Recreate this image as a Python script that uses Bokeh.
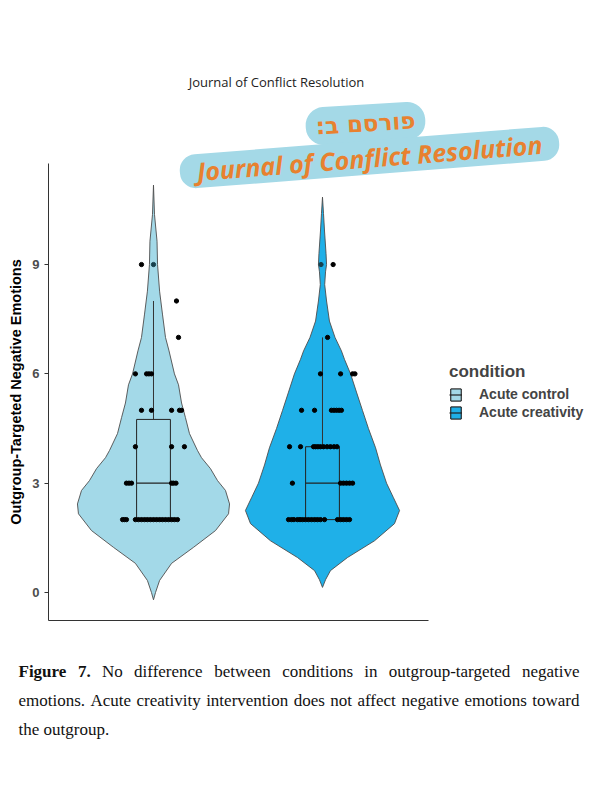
from bokeh.plotting import figure
from bokeh.models import Range1d, FixedTicker, Label, Legend, LegendItem, LinearAxis
from bokeh.embed import file_html
from bokeh.resources import INLINE

# ---------------- data ----------------
conditions = ["Acute control", "Acute creativity"]
cond_pos = [1, 2]
fill_colors = ["#A3D9E8", "#1FB0E8"]

# violin outlines: value levels and half-widths (x units)
ctrl_violin_y = [-0.2, 0.0, 0.33, 0.8, 1.24, 1.7, 2.16, 2.43, 2.8, 3.07, 3.4, 3.7, 3.9,
                 4.36, 4.8, 5.2, 5.7, 6.0, 6.63, 7.0, 7.64, 8.27, 9.0, 9.64, 10.37, 11.18]
ctrl_violin_hw = [0, 0.012, 0.036, 0.107, 0.237, 0.367, 0.444, 0.450, 0.426, 0.379, 0.337,
                  0.284, 0.260, 0.213, 0.189, 0.166, 0.148, 0.124, 0.092, 0.071, 0.053,
                  0.036, 0.024, 0.021, 0.006, 0]
crea_violin_y = [0.14, 0.35, 0.6, 0.96, 1.42, 1.89, 2.25, 2.6, 3.0, 3.5, 3.97, 4.5, 4.99,
                 5.5, 6.0, 6.4, 6.63, 7.0, 7.45, 8.0, 8.45, 8.8, 9.0, 9.3, 9.92, 10.4, 10.85]
crea_violin_hw = [0, 0.018, 0.047, 0.148, 0.308, 0.426, 0.456, 0.420, 0.379, 0.343, 0.314,
                  0.272, 0.237, 0.201, 0.166, 0.130, 0.112, 0.074, 0.041, 0.024, 0.013,
                  0.018, 0.024, 0.021, 0.012, 0.006, 0]

# boxplot statistics
box_low = [2, 2]
box_q1 = [2, 2]
box_med = [3, 3]
box_q3 = [4.75, 4]
box_high = [8, 7]
outlier_y = [9, 9]
outlier_dx = [0.0, -0.009]

# jittered observations (value, horizontal jitter in x units)
ctrl_y = [9, 8, 7, 6, 6, 6, 6, 5, 5, 5, 5, 5, 4, 4, 4, 3, 3, 3, 3, 3, 3,
          2, 2, 2, 2, 2, 2, 2, 2, 2, 2, 2, 2, 2, 2, 2, 2, 2, 2]
ctrl_dx = [-0.071, 0.136, 0.148, -0.107, -0.041, -0.027, -0.012,
           -0.071, -0.012, 0.107, 0.154, 0.166,
           -0.107, 0.107, 0.183,
           -0.160, -0.145, -0.130, 0.107, 0.118, 0.133,
           -0.183, -0.172, -0.160, -0.107, -0.089, -0.071, -0.053, -0.036, -0.018,
           0.0, 0.018, 0.036, 0.053, 0.071, 0.089, 0.107, 0.124, 0.142]
crea_y = [9, 7, 6, 6, 6, 6, 5, 5, 5, 5, 5, 5, 5,
          4, 4, 4, 4, 4, 4, 4, 4, 4, 4, 4, 3, 3, 3, 3, 3, 3,
          2, 2, 2, 2, 2, 2, 2, 2, 2, 2, 2, 2, 2, 2, 2, 2, 2, 2]
crea_dx = [0.063, 0.030, -0.012, 0.107, 0.178, 0.192,
           -0.124, -0.047, 0.053, 0.068, 0.083, 0.098, 0.112,
           -0.195, -0.130, -0.053, -0.041, -0.027, -0.012, 0.006, 0.027, 0.047, 0.068, 0.086,
           -0.178, 0.107, 0.124, 0.142, 0.160, 0.178,
           -0.201, -0.183, -0.169, -0.148, -0.133, -0.118, -0.101, -0.083, -0.065, -0.047,
           -0.030, -0.012, 0.012, 0.089, 0.107, 0.124, 0.142, 0.160]

y_ticks = [0, 3, 6, 9]
y_lim = (-0.768, 11.77)      # extent of the panel's y axis
x_lim = (0.379, 2.627)       # extent of the panel's x axis
y_title = "Outgroup-Targeted Negative Emotions"
legend_title = "condition"
header = "Journal of Conflict Resolution"
badge_top = "פורסם ב:\u200f"
badge_bottom = "Journal of Conflict Resolution"
caption_lines = [
    [("Figure", "bold"), ("7.", "bold"), ("No", "normal"), ("difference", "normal"),
     ("between", "normal"), ("conditions", "normal"), ("in", "normal"),
     ("outgroup-targeted", "normal"), ("negative", "normal")],
    [(w, "normal") for w in "emotions. Acute creativity intervention does not affect negative emotions toward".split()],
    [("the outgroup.", "normal")],
]

# ---------------- figure (frame = whole canvas) ----------------
W, H = 584, 784
p = figure(width=W, height=H, output_backend="svg", toolbar_location=None,
           x_range=Range1d(0.0947, 3.5503), y_range=Range1d(-5.269, 16.246),
           x_axis_location=None, y_axis_location=None,
           min_border_left=0, min_border_right=0, min_border_top=0, min_border_bottom=0,
           background_fill_color="white", border_fill_color="white")
p.outline_line_color = None
p.grid.visible = False

ax = LinearAxis(ticker=FixedTicker(ticks=y_ticks), bounds=y_lim, fixed_location=x_lim[0])
ax.axis_line_color = "#333333"
ax.major_tick_line_color = "#333333"
ax.major_tick_out = 4
ax.major_tick_in = 0
ax.minor_tick_line_color = None
ax.major_label_text_color = "#4D4D4D"
ax.major_label_text_font = "Liberation Sans"
ax.major_label_text_font_style = "bold"
ax.major_label_text_font_size = "13px"
ax.major_label_standoff = 5
ax.axis_label = y_title
ax.axis_label_text_font = "Liberation Sans"
ax.axis_label_text_font_style = "bold"
ax.axis_label_text_font_size = "14.5px"
ax.axis_label_text_color = "black"
ax.axis_label_standoff = 5
p.add_layout(ax, "left")

bx = LinearAxis(ticker=FixedTicker(ticks=[]), bounds=x_lim, fixed_location=y_lim[0])
bx.axis_line_color = "#333333"
bx.major_tick_line_color = None
bx.minor_tick_line_color = None
bx.major_label_text_font_size = "0px"
p.add_layout(bx, "below")

violins = [(ctrl_violin_y, ctrl_violin_hw), (crea_violin_y, crea_violin_hw)]
points = [(ctrl_y, ctrl_dx), (crea_y, crea_dx)]
legend_items = []
for i, name in enumerate(conditions):
    c = cond_pos[i]
    vy, vhw = violins[i]
    xs = [c + h for h in vhw] + [c - h for h in reversed(vhw)]
    ys = list(vy) + list(reversed(vy))
    vr = p.patch(xs, ys, fill_color=fill_colors[i], line_color="#4D4D4D", line_width=0.9)
    p.segment(x0=[c, c], y0=[box_q3[i], box_q1[i]], x1=[c, c], y1=[box_high[i], box_low[i]],
              line_color="#333333", line_width=1)
    br = p.quad(left=[c - 0.1], right=[c + 0.1], bottom=[box_q1[i]], top=[box_q3[i]],
                fill_color=fill_colors[i], line_color="#222222", line_width=1)
    mr = p.segment(x0=[c - 0.1], y0=[box_med[i]], x1=[c + 0.1], y1=[box_med[i]],
                   line_color="#222222", line_width=1.2)
    py_, pdx = points[i]
    p.scatter([c + d for d in pdx], py_, size=4.3, color="black")
    p.scatter([c + outlier_dx[i]], [outlier_y[i]], size=4.3, color="#17404D")
    legend_items.append(LegendItem(label=name, renderers=[vr, br, mr]))

legend = Legend(items=legend_items, location=(449, 364), title=legend_title,
                padding=0, margin=0, spacing=2, glyph_width=13, glyph_height=15,
                label_height=15, label_standoff=17, title_standoff=4,
                border_line_color=None, background_fill_alpha=0,
                label_text_font="Liberation Sans", label_text_font_style="bold",
                label_text_font_size="14px",
                title_text_font="Liberation Sans", title_text_font_style="bold",
                title_text_font_size="17px")
p.add_layout(legend, "center")

# page-pixel positions -> screen units of the frame (frame covers the canvas)
def sx(px):
    return px

def sy(py):
    return H - py

p.add_layout(Label(x=sx(276), y=sy(81), x_units="screen", y_units="screen",
                   text=header, text_align="center", text_baseline="alphabetic",
                   text_font="Open Sans", text_font_size="13px", text_color="#222222"))

orange = "#E8812F"
pill = "#A4D9E7"
p.add_layout(Label(x=sx(365), y=sy(123), x_units="screen", y_units="screen",
                   text=badge_top, text_align="center", text_baseline="middle",
                   angle=3.5, angle_units="deg", text_font="DejaVu Sans",
                   text_font_style="bold", text_font_size="23px", text_color=orange,
                   background_fill_color=pill, border_radius=18, padding=(10, 6)))
p.add_layout(Label(x=sx(369), y=sy(157), x_units="screen", y_units="screen",
                   text=badge_bottom, text_align="center", text_baseline="middle",
                   angle=4.5, angle_units="deg",
                   text_font="Open Sans", text_font_style="bold italic",
                   text_font_size="25px", text_color=orange,
                   background_fill_color=pill, border_radius=16, padding=(17, 0)))

# caption, justified using Times-compatible advance widths (per 1000 em)
TIMES = {' ': 250, 'a': 444, 'b': 500, 'c': 444, 'd': 500, 'e': 444, 'f': 333, 'g': 500,
         'h': 500, 'i': 278, 'j': 278, 'k': 500, 'l': 278, 'm': 778, 'n': 500, 'o': 500,
         'p': 500, 'q': 500, 'r': 333, 's': 389, 't': 278, 'u': 500, 'v': 500, 'w': 722,
         'x': 500, 'y': 500, 'z': 444, 'A': 722, 'F': 556, 'N': 722, '.': 250, '-': 333,
         '7': 500}
TIMES_BOLD = {'F': 611, 'i': 278, 'g': 500, 'u': 556, 'r': 444, 'e': 444, '7': 500, '.': 250}

cap_px = 17
left, right = 18, 579
baselines = [671, 700, 729]

def word_width(word, style):
    table = TIMES_BOLD if style == "bold" else TIMES
    return sum(table.get(ch, TIMES.get(ch, 500)) for ch in word) * cap_px / 1000.0

for li, words in enumerate(caption_lines):
    widths = [word_width(w, s) for w, s in words]
    if li < len(caption_lines) - 1 and len(words) > 1:
        gap = (right - left - sum(widths)) / (len(words) - 1)
    else:
        gap = TIMES[' '] * cap_px / 1000.0
    xpos = left
    for (w, s), wd in zip(words, widths):
        p.add_layout(Label(x=sx(xpos), y=sy(baselines[li]), x_units="screen", y_units="screen",
                           text=w, text_font="Liberation Serif", text_font_size=f"{cap_px}px",
                           text_font_style=s, text_color="#111111",
                           text_baseline="alphabetic"))
        xpos += wd + gap

open("out.html", "w").write(file_html(p, INLINE))
